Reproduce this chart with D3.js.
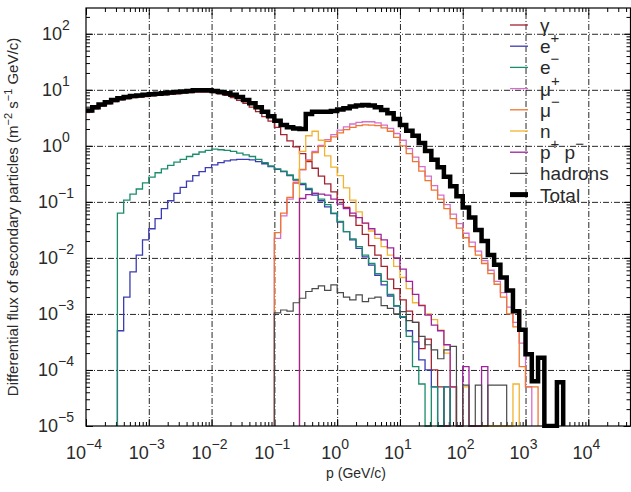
<!DOCTYPE html>
<html lang="en">
<head>
  <meta charset="UTF-8">
  <title>Differential flux of secondary particles</title>
  <script src="https://d3js.org/d3.v7.min.js"></script>
  <style>
    body { margin: 0; background: #fff; }
    svg text { font-family: "Liberation Sans", Arial, sans-serif; fill: #2a2a2a; }
  </style>
</head>
<body>
  <div id="chart"></div>
  <script>
    // histogram bins are 0.1 wide in log10(p / GeV/c); values are log10 of the flux, null = empty bin
    const binWidth = 0.1;

    const totalStart = -4.0;
    const totalFlux = [
      0.63, 0.69, 0.74, 0.78, 0.82, 0.85, 0.87, 0.89, 0.90, 0.91,
      0.92, 0.93, 0.94, 0.95, 0.96, 0.97, 0.98, 0.99, 0.99, 0.99,
      0.98, 0.96, 0.94, 0.91, 0.87, 0.82, 0.76, 0.69, 0.61, 0.53,
      0.45, 0.37, 0.33, 0.31, 0.30, 0.57, 0.61, 0.61, 0.61, 0.62,
      0.65, 0.67, 0.70, 0.72, 0.73, 0.72, 0.69, 0.64, 0.58, 0.48,
      0.37, 0.27, 0.18, 0.05, -0.09, -0.25, -0.38, -0.55, -0.72, -0.90,
      -1.10, -1.28, -1.50, -1.70, -1.95, -2.12, -2.35, -2.58, -2.95, -3.28,
      -3.72, -4.20, -3.78, null, null, -4.22
    ];

    const gammaStart = -4.0;
    const gammaFlux = [
      0.60, 0.66, 0.71, 0.75, 0.79, 0.82, 0.84, 0.86, 0.87, 0.88,
      0.89, 0.90, 0.91, 0.92, 0.93, 0.94, 0.95, 0.96, 0.96, 0.96,
      0.95, 0.93, 0.90, 0.86, 0.81, 0.76, 0.69, 0.61, 0.52, 0.44,
      0.33, 0.20, 0.09, -0.02, -0.14, -0.28, -0.40, -0.54, -0.68, -0.82,
      -0.96, -1.10, -1.25, -1.42, -1.58, -1.78, -1.95, -2.15, -2.38, -2.55,
      -2.75, -2.95, -3.15, -3.62, -3.45, -4.00, -4.30, null, -4.30
    ];

    const ePlusStart = -3.5;
    const ePlusFlux = [
      -3.30, -2.70, -2.25, -1.95, -1.68, -1.48, -1.30, -1.12, -0.98, -0.85,
      -0.74, -0.63, -0.53, -0.46, -0.39, -0.34, -0.30, -0.27, -0.25, -0.24,
      -0.24, -0.25, -0.28, -0.32, -0.37, -0.42, -0.46, -0.53, -0.61, -0.69,
      -0.78, -0.88, -0.98, -1.09, -1.21, -1.36, -1.53, -1.68, -1.83, -1.98,
      -2.13, -2.31, -2.48, -2.68, -2.86, -3.06, -3.30, -3.50, -3.82, -4.00,
      -4.30, null, -4.30
    ];

    const eMinusStart = -3.5;
    const eMinusFlux = [
      -1.20, -0.97, -0.86, -0.77, -0.66, -0.56, -0.48, -0.41, -0.35, -0.29,
      -0.24, -0.19, -0.15, -0.11, -0.08, -0.06, -0.07, -0.08, -0.10, -0.13,
      -0.16, -0.19, -0.24, -0.30, -0.36, -0.41, -0.45, -0.52, -0.60, -0.67,
      -0.76, -0.85, -0.95, -1.05, -1.20, -1.35, -1.53, -1.66, -1.80, -1.95,
      -2.10, -2.28, -2.42, -2.65, -2.85, -3.05, -3.40, -3.94, -4.25, null,
      -4.30, null, -4.30
    ];

    const muPlusStart = -1.0;
    const muPlusFlux = [
      -1.65, -1.25, -0.95, -0.67, -0.43, -0.25, -0.10, 0.01, 0.11, 0.20,
      0.28, 0.34, 0.39, 0.42, 0.43, 0.43, 0.41, 0.37, 0.31, 0.22,
      0.10, -0.05, -0.20, -0.37, -0.54, -0.71, -0.88, -1.05, -1.22, -1.39,
      -1.56, -1.72, -1.88, -2.05, -2.22, -2.42, -2.62, -2.88, -3.15, -3.52,
      -4.30
    ];

    const muMinusStart = -1.0;
    const muMinusFlux = [
      -1.55, -1.20, -0.92, -0.65, -0.42, -0.26, -0.12, -0.01, 0.08, 0.16,
      0.23, 0.29, 0.33, 0.36, 0.375, 0.37, 0.36, 0.32, 0.26, 0.15,
      0.00, -0.14, -0.28, -0.45, -0.62, -0.79, -0.95, -1.12, -1.30, -1.47,
      -1.64, -1.80, -1.95, -2.10, -2.28, -2.47, -2.70, -3.00, -3.23, -3.94,
      -4.30, -4.30
    ];

    const neutronStart = -0.6;
    const neutronFlux = [
      -0.10, 0.18, 0.26, 0.10, -0.18, -0.38, -0.53, -0.75, -0.97, -1.18,
      -1.38, -1.52, -1.65, -1.80, -1.95, -2.15, -2.35, -2.55, -2.80, -2.84,
      -3.00, -3.10, -3.29, -3.70, -4.30, null, -4.30, null, null, null,
      null, null, null, null, -4.25
    ];

    const protonStart = -0.6;
    const protonFlux = [
      -0.94, -0.87, -0.85, -0.86, -0.88, -0.95, -1.04, -1.12, -1.20, -1.28,
      -1.38, -1.48, -1.58, -1.68, -1.82, -2.00, -2.20, -2.42, -2.65, -2.85,
      -3.02, -3.20, -3.30, -3.55, -4.30, null, -3.94, null, null, -3.94
    ];

    const hadronStart = -1.0;
    const hadronFlux = [
      -2.98, -2.93, -2.95, -2.80, -2.72, -2.60, -2.55, -2.50, -2.58, -2.48,
      -2.62, -2.70, -2.75, -2.66, -2.78, -2.72, -2.70, -2.85, -2.90, -3.00,
      -2.96, -3.12, -3.15, -3.40, -3.55, -3.64, -3.80, -3.64, -3.58, null,
      -4.27, null, -4.27, null, -4.27, -4.27, -4.27
    ];

    const xTickExps = [-4, -3, -2, -1, 0, 1, 2, 3, 4];
    const yTickExps = [-5, -4, -3, -2, -1, 0, 1, 2];

    const legendLabels = [
      [["γ", false]],
      [["e", false], ["+", true]],
      [["e", false], ["−", true]],
      [["μ", false], ["+", true]],
      [["μ", false], ["−", true]],
      [["n", false]],
      [["p", false], ["+", true], [" p", false], ["−", true]],
      [["hadrons", false]],
      [["Total", false]]
    ];

    const series = [
      { start: gammaStart, flux: gammaFlux, color: "#a3232f", width: 1.3 },
      { start: ePlusStart, flux: ePlusFlux, color: "#3b3bb3", width: 1.3 },
      { start: eMinusStart, flux: eMinusFlux, color: "#1b8c6c", width: 1.3 },
      { start: muPlusStart, flux: muPlusFlux, color: "#d66fca", width: 1.3 },
      { start: muMinusStart, flux: muMinusFlux, color: "#f07630", width: 1.3 },
      { start: neutronStart, flux: neutronFlux, color: "#f2b330", width: 1.3 },
      { start: protonStart, flux: protonFlux, color: "#a0209e", width: 1.3 },
      { start: hadronStart, flux: hadronFlux, color: "#4a4a4a", width: 1.2 },
      { start: totalStart, flux: totalFlux, color: "#000", width: 4.5 }
    ];

    const width = 631, height = 492;
    const margin = { top: 8, right: 0, bottom: 66, left: 86 };
    const plotW = width - margin.left - margin.right;
    const plotH = height - margin.top - margin.bottom;

    const x = d3.scaleLog().domain([1e-4, Math.pow(10, 4.68)]).range([margin.left, width - margin.right]);
    const y = d3.scaleLog().domain([1e-5, Math.pow(10, 2.46)]).range([height - margin.bottom, margin.top]);
    const floor = y.domain()[0];

    const svg = d3.select('#chart').append('svg')
      .attr('width', width)
      .attr('height', height);

    svg.append('rect').attr('width', width).attr('height', height).attr('fill', '#fff');

    svg.append('clipPath').attr('id', 'plot-clip')
      .append('rect')
      .attr('x', margin.left).attr('y', margin.top)
      .attr('width', plotW).attr('height', plotH + 2);

    // minor tick positions, 2..9 in each decade
    const xMinor = [], yMinor = [];
    for (let e = -4; e <= 4; e++) for (let m = 2; m <= 9; m++) {
      const v = m * Math.pow(10, e);
      if (v < x.domain()[1]) xMinor.push(v);
    }
    for (let e = -5; e <= 2; e++) for (let m = 2; m <= 9; m++) {
      const v = m * Math.pow(10, e);
      if (v < y.domain()[1]) yMinor.push(v);
    }
    const xMajor = xTickExps.map(e => Math.pow(10, e));
    const yMajor = yTickExps.map(e => Math.pow(10, e));

    // grid
    const gridX = svg.append('g')
      .attr('transform', `translate(0, ${height - margin.bottom})`)
      .call(d3.axisBottom(x).tickValues(xMajor.slice(1)).tickSize(-plotH).tickFormat(''));
    const gridY = svg.append('g')
      .attr('transform', `translate(${margin.left}, 0)`)
      .call(d3.axisLeft(y).tickValues(yMajor.slice(1)).tickSize(-plotW).tickFormat(''));
    [gridX, gridY].forEach(g => {
      g.select('.domain').remove();
      g.selectAll('line')
        .attr('stroke', '#000')
        .attr('stroke-width', 1)
        .attr('stroke-dasharray', '6,2,1,2')
        .attr('opacity', 0.85);
    });

    // ticks on all four sides, pointing inwards
    function ticks(axisFn, scale, vals, size, transform) {
      const g = svg.append('g')
        .attr('transform', transform)
        .call(axisFn(scale).tickValues(vals).tickSize(-size).tickFormat(''));
      g.select('.domain').remove();
      g.selectAll('line').attr('stroke', '#000').attr('stroke-width', 1);
    }
    const bottomT = `translate(0, ${height - margin.bottom})`;
    const topT = `translate(0, ${margin.top})`;
    const leftT = `translate(${margin.left}, 0)`;
    const rightT = `translate(${width - margin.right - 0.5}, 0)`;
    ticks(d3.axisBottom, x, xMajor, 7, bottomT);
    ticks(d3.axisBottom, x, xMinor, 4, bottomT);
    ticks(d3.axisTop, x, xMajor, 7, topT);
    ticks(d3.axisTop, x, xMinor, 4, topT);
    ticks(d3.axisLeft, y, yMajor, 7, leftT);
    ticks(d3.axisLeft, y, yMinor, 4, leftT);
    ticks(d3.axisRight, y, yMajor, 7, rightT);
    ticks(d3.axisRight, y, yMinor, 4, rightT);

    // histograms
    const line = d3.line()
      .x(d => x(d[0]))
      .y(d => y(d[1]))
      .curve(d3.curveStepAfter);

    function histPoints(start, flux) {
      const pts = [];
      if (Math.pow(10, start) > x.domain()[0]) pts.push([Math.pow(10, start), floor]);
      flux.forEach((v, i) => {
        pts.push([Math.pow(10, start + i * binWidth), v == null ? floor : Math.pow(10, v)]);
      });
      pts.push([Math.pow(10, start + flux.length * binWidth), floor]);
      return pts;
    }

    const curves = svg.append('g').attr('clip-path', 'url(#plot-clip)');
    curves.selectAll('path')
      .data(series)
      .enter()
      .append('path')
      .attr('d', d => line(histPoints(d.start, d.flux)))
      .attr('fill', 'none')
      .attr('stroke', d => d.color)
      .attr('stroke-width', d => d.width)
      .attr('stroke-linejoin', 'miter');

    // frame
    svg.append('rect')
      .attr('x', margin.left).attr('y', margin.top)
      .attr('width', plotW - 0.5).attr('height', plotH)
      .attr('fill', 'none')
      .attr('stroke', '#000')
      .attr('stroke-width', 1.2);

    function addRich(textSel, parts, supSize, rise) {
      let raised = false;
      parts.forEach(([s, sup]) => {
        const t = textSel.append('tspan').text(s);
        if (sup) {
          t.style('font-size', supSize + 'px');
          if (!raised) { t.attr('dy', -rise); raised = true; }
        } else if (raised) {
          t.attr('dy', rise);
          raised = false;
        }
      });
    }

    // tick labels
    xTickExps.forEach(e => {
      const t = svg.append('text')
        .attr('x', x(Math.pow(10, e)) - 2)
        .attr('y', 459)
        .attr('text-anchor', 'middle')
        .style('font-size', '18px');
      addRich(t, [["10", false], [e < 0 ? "−" + (-e) : String(e), true]], 14, 10);
    });
    yTickExps.forEach(e => {
      const t = svg.append('text')
        .attr('x', 56)
        .attr('y', y(Math.pow(10, e)) + 6)
        .attr('text-anchor', 'middle')
        .style('font-size', '18px');
      addRich(t, [["10", false], [e < 0 ? "−" + (-e) : String(e), true]], 14, 10);
    });

    // axis titles
    svg.append('text')
      .attr('x', 356)
      .attr('y', 478)
      .attr('text-anchor', 'middle')
      .style('font-size', '14px')
      .text('p (GeV/c)');

    const yTitle = svg.append('text')
      .attr('transform', `translate(18, ${margin.top + plotH / 2}) rotate(-90)`)
      .attr('text-anchor', 'middle')
      .style('font-size', '15px');
    addRich(yTitle, [
      ["Differential flux of secondary particles (m", false], ["−2", true],
      [" s", false], ["−1", true], [" GeV/c)", false]
    ], 11, 6);

    // legend
    const legend = svg.append('g');
    legendLabels.forEach((parts, i) => {
      const cy = 25 + i * 21.2;
      const s = series[i];
      legend.append('line')
        .attr('x1', 510).attr('x2', 528)
        .attr('y1', cy).attr('y2', cy)
        .attr('stroke', s.color)
        .attr('stroke-width', s.width > 2 ? 5 : 1.3);
      const t = legend.append('text')
        .attr('x', 540)
        .attr('y', cy + 7)
        .style('font-size', '19px');
      addRich(t, parts, 15, 10);
    });
  </script>
</body>
</html>
